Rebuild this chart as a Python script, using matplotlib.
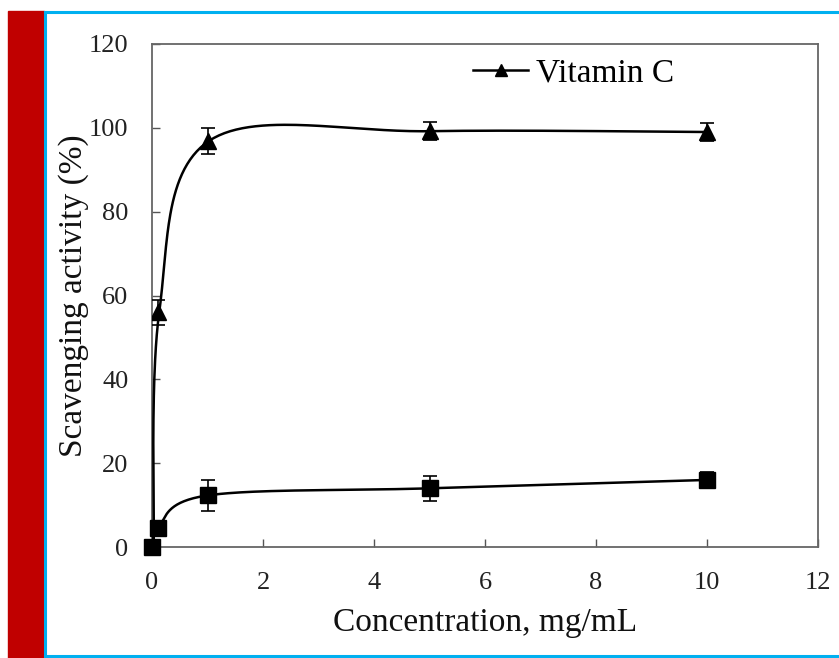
import numpy as np
import matplotlib
matplotlib.use("Agg")
import matplotlib.pyplot as plt
from matplotlib.patches import Rectangle
from matplotlib.lines import Line2D

plt.rcParams['font.family'] = ['Liberation Serif', 'DejaVu Serif']

# concentrations (mg/mL) and scavenging activity (%)
conc = [0, 0.1, 1, 5, 10]
vitc = [0, 56, 96.9, 99.2, 99]
vitc_err = [0, 3, 3.1, 2.2, 2.2]
sample = [0, 4.5, 12.3, 14, 16]
sample_err = [0, 0.8, 3.8, 3, 2]

xticks = [0, 2, 4, 6, 8, 10, 12]
yticks = [0, 20, 40, 60, 80, 100, 120]


def excel_smooth(xs, ys, sx, sy, n=60):
    # bezier smoothing like spreadsheet "smoothed line", done in screen units
    px = np.array(xs, float) * sx
    py = np.array(ys, float) * sy
    pts = np.column_stack([px, py])
    out = []
    for i in range(len(pts) - 1):
        p0 = pts[max(i - 1, 0)]
        p1 = pts[i]
        p2 = pts[i + 1]
        p3 = pts[min(i + 2, len(pts) - 1)]
        c1 = p1 + (p2 - p0) / 6.0
        c2 = p2 - (p3 - p1) / 6.0
        t = np.linspace(0, 1, n)[:, None]
        seg = ((1 - t) ** 3) * p1 + 3 * ((1 - t) ** 2) * t * c1 \
            + 3 * (1 - t) * t ** 2 * c2 + t ** 3 * p2
        out.append(seg)
    out = np.vstack(out)
    return out[:, 0] / sx, out[:, 1] / sy


fig = plt.figure(figsize=(8.39, 6.58), dpi=100)

# red side bar and blue frame
fig.patches.append(Rectangle((8 / 839, 0), 36 / 839, 1 - 11 / 658,
                             transform=fig.transFigure, color='#C00000', zorder=0))
blue = '#00B0F0'
fig.add_artist(Line2D([45 / 839, 45 / 839], [2 / 658, 1 - 12 / 658], color=blue, lw=2.2,
                      transform=fig.transFigure))
fig.add_artist(Line2D([45 / 839, 1], [1 - 12 / 658, 1 - 12 / 658], color=blue, lw=2.2,
                      transform=fig.transFigure))
fig.add_artist(Line2D([45 / 839, 1], [2 / 658, 2 / 658], color=blue, lw=2.2,
                      transform=fig.transFigure))

ax = fig.add_axes([152 / 839, 1 - 547 / 658, 666 / 839, 503 / 658])
ax.set_xlim(0, 12)
ax.set_ylim(0, 120)

# pixels per data unit, used for the smoothing
sx = 666 / 12.0
sy = 503 / 120.0

xs, ys = excel_smooth(conc, vitc, sx, sy)
ax.plot(xs + 0.03, ys, color='black', lw=1.8, zorder=3)
ax.errorbar(conc[1:], vitc[1:], yerr=vitc_err[1:], fmt='^', color='black',
            ms=11, capsize=5, elinewidth=1.2, capthick=1.2, zorder=4)

xs, ys = excel_smooth(conc, sample, sx, sy)
ax.plot(xs, ys, color='black', lw=1.8, zorder=3)
ax.errorbar(conc, sample, yerr=sample_err, fmt='s', color='black',
            ms=11, capsize=5, elinewidth=1.2, capthick=1.2, zorder=4, clip_on=False)

ax.set_xticks(xticks)
ax.set_yticks(yticks)
ax.tick_params(direction='in', length=6, width=1, colors='#555555',
               labelcolor='#222222', labelsize=19)
ax.tick_params(axis='x', pad=18)
ax.tick_params(axis='y', pad=17)
for s in ax.spines.values():
    s.set_color('#666666')
    s.set_linewidth(1.3)

ax.set_xlabel('Concentration, mg/mL', fontsize=24, color='#111111', labelpad=10)
ax.set_ylabel('Scavenging activity (%)', fontsize=24, color='#111111')
ax.yaxis.set_label_coords(-(152 - 89) / 666, (547 - 296) / 503)

handle = Line2D([], [], color='black', lw=1.8, marker='^', ms=9)
ax.legend(handles=[handle], labels=['Vitamin C'], loc='center left',
          bbox_to_anchor=((473 - 152) / 666, (547 - 73) / 503), frameon=False,
          fontsize=24, borderaxespad=0, borderpad=0,
          handlelength=1.65, handletextpad=0.25)

fig.savefig('out.png', dpi=100)
